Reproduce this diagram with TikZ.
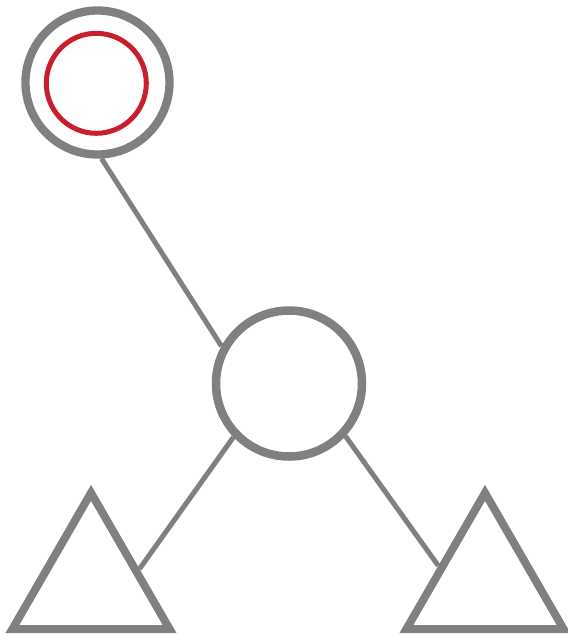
\documentclass[tikz,border=0pt]{standalone}
\usetikzlibrary{shapes.geometric}
\definecolor{treegray}{RGB}{128,128,128}
\definecolor{hlred}{RGB}{200,30,45}
\begin{document}
\begin{tikzpicture}[x=1pt,y=-1pt,
  ring/.style={circle,draw=treegray,line width=8.3pt,inner sep=0pt,minimum size=#1},
  redring/.style={circle,draw=hlred,line width=5pt,inner sep=0pt,minimum size=#1},
  subtree/.style={regular polygon,regular polygon sides=3,draw=treegray,line width=8pt,inner sep=0pt,minimum size=181.6pt},
  edge/.style={draw=treegray,line width=5pt}]
\useasboundingbox (0,0) rectangle (568,635);
\node[ring=144pt] (top) at (97.5,82.5) {};
\node[redring=100pt] (inner) at (96.3,83.3) {};
\node[ring=146pt,line width=8.5pt] (mid) at (289,383.5) {};
\node[subtree] (lt) at (91,583.7) {};
\node[subtree] (rt) at (485,583.7) {};
\draw[edge] (top.-87.7) -- (mid.151.8);
\draw[edge] (mid.-136.3) -- (lt.17.4);
\draw[edge] (mid.-43.6) -- (rt.159.6);
\end{tikzpicture}
\end{document}
